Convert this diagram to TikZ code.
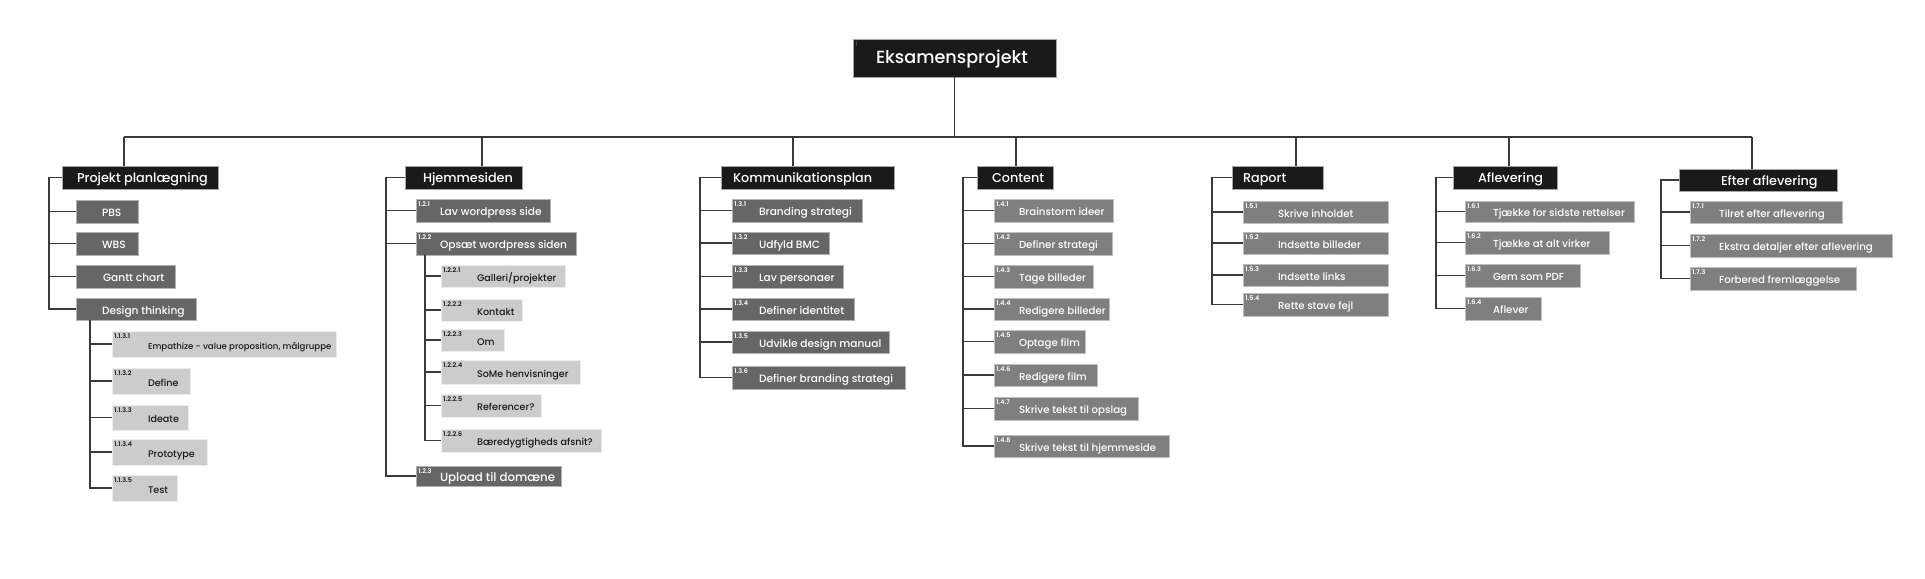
\documentclass[tikz,border=0pt]{standalone}
\usepackage{fontspec}
\setmainfont{Poppins}[UprightFont=* Medium, BoldFont=* SemiBold]
\usetikzlibrary{fit}
\definecolor{blk}{HTML}{1A1A1A}
\definecolor{dkg}{HTML}{666666}
\definecolor{mdg}{HTML}{7F7F7F}
\definecolor{ltg}{HTML}{CCCCCC}
\definecolor{lnc}{HTML}{3A3A3A}
\newcommand\wbox[8]{%
  \node[#2, fit={(#3,#4) (#5,#6)}] (#1) {};
  \node[#2 txt, anchor=base west] (#1-t) at ([xshift=#8*0.5pt, yshift=-2.5pt]#1.west) {#7};
}
\newcommand\wnum[9]{%
  \wbox{#1}{#2}{#3}{#4}{#5}{#6}{#8}{#9}%
  \node[#2 num, anchor=north west] (#1-n) at ([xshift=1.2pt,yshift=-1.2pt]#1.north west) {#7};
}
\tikzset{
  boxbase/.style={inner sep=0pt, line width=0.4pt},
  root/.style={boxbase, fill=blk, draw=gray!70},
  root txt/.style={inner sep=0pt, text=white, font=\fontsize{8.8}{11}\selectfont},
  root num/.style={inner sep=0pt, text=gray!60!black, font=\fontsize{3.2}{3.5}\selectfont\bfseries},
  lone/.style={boxbase, fill=blk, draw=gray!70},
  lone txt/.style={inner sep=0pt, text=white, font=\fontsize{6.4}{8}\selectfont},
  dk/.style={boxbase, fill=dkg, draw=gray!60},
  dk txt/.style={inner sep=0pt, text=white, font=\fontsize{5.3}{7}\selectfont},
  dk num/.style={inner sep=0pt, text=white, font=\fontsize{3.2}{3.5}\selectfont\bfseries},
  dkb/.style={dk},
  dkb txt/.style={inner sep=0pt, text=white, font=\fontsize{5.9}{7}\selectfont},
  dkb num/.style={dk num},
  md/.style={boxbase, fill=mdg, draw=gray!50},
  md txt/.style={inner sep=0pt, text=white, font=\fontsize{5.1}{7}\selectfont},
  md num/.style={inner sep=0pt, text=white, font=\fontsize{3.2}{3.5}\selectfont\bfseries},
  lt/.style={boxbase, fill=ltg, draw=gray!15},
  lt txt/.style={inner sep=0pt, text=blk, font=\fontsize{4.8}{6}\selectfont},
  lt num/.style={inner sep=0pt, text=blk, font=\fontsize{3.2}{3.5}\selectfont\bfseries},
  lts/.style={lt},
  lts txt/.style={inner sep=0pt, text=blk, font=\fontsize{4.3}{6}\selectfont},
  lts num/.style={lt num},
  conn/.style={draw=lnc, line width=0.9pt},
}
\begin{document}
\begin{tikzpicture}[x=0.5pt, y=-0.5pt]
\fill[white] (0,0) rectangle (1925,578);
\useasboundingbox (0,0) rectangle (1925,578);

% root
\wnum{root}{root}{853}{39}{1056}{77}{1}{Eksamensprojekt}{23}

% level 1
\wbox{pp}{lone}{62}{166}{218}{189}{Projekt planlægning}{15}
\wbox{hj}{lone}{405}{166}{522}{189}{Hjemmesiden}{18}
\wbox{ko}{lone}{721}{166}{894}{189}{Kommunikationsplan}{12}
\wbox{co}{lone}{977}{166}{1053}{189}{Content}{15}
\wbox{ra}{lone}{1232}{166}{1323}{189}{Raport}{11}
\wbox{af}{lone}{1453}{166}{1557}{189}{Aflevering}{25}
\wbox{ef}{lone}{1679}{169}{1837}{191}{Efter aflevering}{42}

% Projekt planlaegning
\wbox{p1}{dk}{76}{200}{138}{223}{PBS}{26}
\wbox{p2}{dk}{76}{232}{138}{255}{WBS}{26}
\wbox{p3}{dk}{76}{265}{175}{288}{Gantt chart}{27}
\wbox{p4}{dk}{76}{298}{196}{320}{Design thinking}{26}
\wnum{d1}{lts}{112}{331}{336}{357}{1.1.3.1}{Empathize - value proposition, målgruppe}{36}
\wnum{d2}{lt}{112}{368}{190}{394}{1.1.3.2}{Define}{36}
\wnum{d3}{lt}{112}{405}{188}{430}{1.1.3.3}{Ideate}{36}
\wnum{d4}{lt}{112}{439}{207}{465}{1.1.3.4}{Prototype}{36}
\wnum{d5}{lt}{112}{475}{177}{501}{1.1.3.5}{Test}{36}

% Hjemmesiden
\wnum{h1}{dk}{416}{199}{550}{222}{1.2.1}{Lav wordpress side}{24}
\wnum{h2}{dk}{416}{232}{576}{255}{1.2.2}{Opsæt wordpress siden}{24}
\wnum{h3}{dkb}{416}{466}{561}{486}{1.2.3}{Upload til domæne}{24}
\wnum{o1}{lt}{441}{265}{565}{287}{1.2.2.1}{Galleri/projekter}{36}
\wnum{o2}{lt}{441}{299}{522}{321}{1.2.2.2}{Kontakt}{36}
\wnum{o3}{lt}{441}{329}{504}{351}{1.2.2.3}{Om}{36}
\wnum{o4}{lt}{441}{360}{580}{384}{1.2.2.4}{SoMe henvisninger}{36}
\wnum{o5}{lt}{441}{394}{541}{417}{1.2.2.5}{Referencer?}{36}
\wnum{o6}{lt}{441}{429}{601}{452}{1.2.2.6}{Bæredygtigheds afsnit?}{36}

% Kommunikationsplan
\wnum{k1}{dk}{732}{199}{862}{222}{1.3.1}{Branding strategi}{27}
\wnum{k2}{dk}{732}{232}{829}{254}{1.3.2}{Udfyld BMC}{27}
\wnum{k3}{dk}{732}{265}{843}{288}{1.3.3}{Lav personaer}{27}
\wnum{k4}{dk}{732}{298}{854}{320}{1.3.4}{Definer identitet}{27}
\wnum{k5}{dk}{732}{331}{889}{353}{1.3.5}{Udvikle design manual}{27}
\wnum{k6}{dk}{732}{366}{905}{389}{1.3.6}{Definer branding strategi}{27}

% Content
\wnum{c1}{md}{994}{199}{1113}{222}{1.4.1}{Brainstorm ideer}{25}
\wnum{c2}{md}{994}{232}{1112}{255}{1.4.2}{Definer strategi}{25}
\wnum{c3}{md}{994}{265}{1093}{288}{1.4.3}{Tage billeder}{25}
\wnum{c4}{md}{994}{298}{1109}{320}{1.4.4}{Redigere billeder}{25}
\wnum{c5}{md}{994}{330}{1085}{353}{1.4.5}{Optage film}{25}
\wnum{c6}{md}{994}{364}{1097}{386}{1.4.6}{Redigere film}{25}
\wnum{c7}{md}{994}{397}{1138}{420}{1.4.7}{Skrive tekst til opslag}{25}
\wnum{c8}{md}{994}{435}{1169}{457}{1.4.8}{Skrive tekst til hjemmeside}{25}

% Raport
\wnum{r1}{md}{1243}{201}{1388}{223}{1.5.1}{Skrive inholdet}{35}
\wnum{r2}{md}{1243}{232}{1388}{254}{1.5.2}{Indsette billeder}{35}
\wnum{r3}{md}{1243}{264}{1388}{286}{1.5.3}{Indsette links}{35}
\wnum{r4}{md}{1243}{293}{1388}{316}{1.5.4}{Rette stave fejl}{35}

% Aflevering
\wnum{a1}{md}{1465}{201}{1634}{222}{1.6.1}{Tjække for sidste rettelser}{28}
\wnum{a2}{md}{1465}{231}{1609}{254}{1.6.2}{Tjække at alt virker}{28}
\wnum{a3}{md}{1465}{264}{1580}{287}{1.6.3}{Gem som PDF}{28}
\wnum{a4}{md}{1465}{297}{1541}{320}{1.6.4}{Aflever}{28}

% Efter aflevering
\wnum{e1}{md}{1690}{201}{1842}{223}{1.7.1}{Tilret efter aflevering}{29}
\wnum{e2}{md}{1690}{234}{1892}{257}{1.7.2}{Ekstra detaljer efter aflevering}{29}
\wnum{e3}{md}{1690}{267}{1856}{290}{1.7.3}{Forbered fremlæggelse}{29}

% bus
\coordinate (b1) at (124,137);
\coordinate (b2) at (482,137);
\coordinate (b3) at (793,137);
\coordinate (b4) at (1016,137);
\coordinate (b5) at (1296,137);
\coordinate (b6) at (1509,137);
\coordinate (b7) at (1752,137);
\draw[conn] (root.south) -- (root.south |- b1);
\draw[conn] (b1) -- (b7);
\draw[conn] (b1) -- (b1 |- pp.north);
\draw[conn] (b2) -- (b2 |- hj.north);
\draw[conn] (b3) -- (b3 |- ko.north);
\draw[conn] (b4) -- (b4 |- co.north);
\draw[conn] (b5) -- (b5 |- ra.north);
\draw[conn] (b6) -- (b6 |- af.north);
\draw[conn] (b7) -- (b7 |- ef.north);

% brackets
\coordinate (ppx) at (49,0);
\draw[conn] (pp.west) -| (ppx |- p4.west) -- (p4.west);
\foreach \n in {p1,p2,p3} \draw[conn] (ppx |- \n.west) -- (\n.west);
\coordinate (dtx) at (90,0);
\draw[conn] (dtx |- p4.south) -- (dtx |- d5.west) -- (d5.west);
\foreach \n in {d1,d2,d3,d4} \draw[conn] (dtx |- \n.west) -- (\n.west);

\coordinate (hjx) at (386,0);
\draw[conn] (hj.west) -| (hjx |- h3.west) -- (h3.west);
\foreach \n in {h1,h2} \draw[conn] (hjx |- \n.west) -- (\n.west);
\coordinate (opx) at (425,0);
\draw[conn] (opx |- h2.south) -- (opx |- o6.west) -- (o6.west);
\foreach \n in {o1,o2,o3,o4,o5} \draw[conn] (opx |- \n.west) -- (\n.west);

\coordinate (kox) at (700,0);
\draw[conn] (ko.west) -| (kox |- k6.west) -- (k6.west);
\foreach \n in {k1,k2,k3,k4,k5} \draw[conn] (kox |- \n.west) -- (\n.west);

\coordinate (cox) at (963,0);
\draw[conn] (co.west) -| (cox |- c8.west) -- (c8.west);
\foreach \n in {c1,c2,c3,c4,c5,c6,c7} \draw[conn] (cox |- \n.west) -- (\n.west);

\coordinate (rax) at (1212,0);
\draw[conn] (ra.west) -| (rax |- r4.west) -- (r4.west);
\foreach \n in {r1,r2,r3} \draw[conn] (rax |- \n.west) -- (\n.west);

\coordinate (afx) at (1436,0);
\draw[conn] (af.west) -| (afx |- a4.west) -- (a4.west);
\foreach \n in {a1,a2,a3} \draw[conn] (afx |- \n.west) -- (\n.west);

\coordinate (efx) at (1661,0);
\draw[conn] (ef.west) -| (efx |- e3.west) -- (e3.west);
\foreach \n in {e1,e2} \draw[conn] (efx |- \n.west) -- (\n.west);
\end{tikzpicture}
\end{document}
